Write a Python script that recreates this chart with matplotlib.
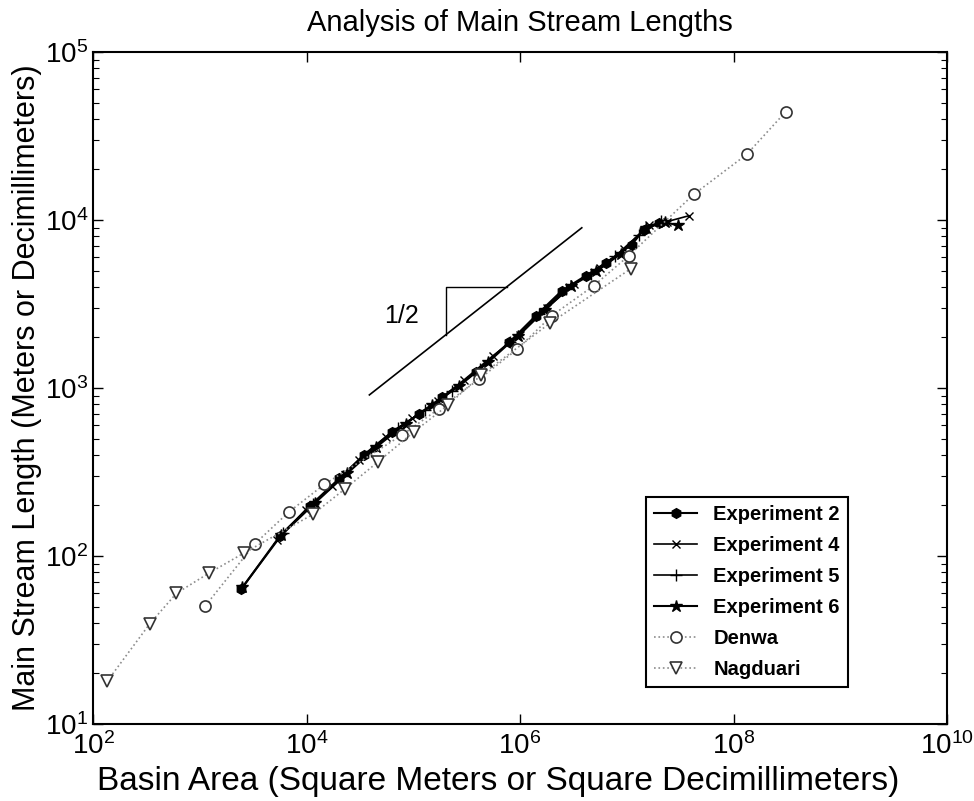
import matplotlib
matplotlib.use("Agg")
import matplotlib.pyplot as plt
import numpy as np

plt.rcParams['font.family'] = ['Liberation Sans', 'DejaVu Sans']
plt.rcParams['mathtext.fontset'] = 'custom'
plt.rcParams['mathtext.rm'] = 'Liberation Sans'
plt.rcParams['mathtext.it'] = 'Liberation Sans:italic'
plt.rcParams['mathtext.bf'] = 'Liberation Sans:bold'

# Experiments (laboratory basins, square decimillimeters / decimillimeters)
exp2_area = [2450, 5600, 10700, 20300, 34800, 63700, 114000, 187000, 388000, 789000,
             1.41e6, 2.47e6, 4.14e6, 6.37e6, 1.11e7, 1.44e7, 1.99e7]
exp2_len = [63.5, 131, 198, 290, 402, 550, 702, 885, 1245, 1870,
            2700, 3800, 4670, 5570, 7120, 8730, 9600]

exp4_area = [5300, 9800, 17500, 31000, 55000, 98000, 170000, 300000, 560000, 1.0e6,
             1.8e6, 3.2e6, 5.6e6, 9.5e6, 1.6e7, 2.4e7, 3.8e7]
exp4_len = [125, 188, 262, 375, 510, 660, 840, 1120, 1560, 2080,
            3000, 4150, 5200, 6700, 9300, 9800, 10600]

exp5_area = [6000, 11500, 22000, 40000, 72000, 130000, 230000, 420000, 800000, 1.5e6,
             2.7e6, 4.6e6, 7.8e6, 1.3e7, 2.1e7]
exp5_len = [138, 205, 300, 420, 580, 740, 960, 1300, 1880, 2750,
            3900, 4800, 6100, 8200, 9900]

exp6_area = [2500, 5800, 12000, 24000, 45000, 85000, 150000, 270000, 500000, 950000,
             1.7e6, 3.0e6, 5.2e6, 8.8e6, 1.5e7, 2.3e7, 3.0e7]
exp6_len = [65, 133, 207, 310, 445, 615, 790, 1030, 1420, 2050,
            2920, 4050, 4950, 6300, 9000, 9700, 9300]

# Natural basins
denwa_area = [1130, 3270, 6840, 14700, 78900, 175000, 414000, 938000, 1.99e6, 4.92e6,
              1.04e7, 4.23e7, 1.33e8, 3.08e8]
denwa_len = [50.6, 118, 183, 267, 527, 755, 1130, 1700, 2700, 4070,
             6120, 14200, 24600, 44100]

nag_area = [136, 341, 605, 1213, 2580, 11460, 23100, 47100, 102000, 212000,
            432000, 1.90e6, 1.09e7]
nag_len = [18, 39.6, 60, 79, 104, 177, 252, 365, 550, 793,
           1194, 2430, 5130]

fig = plt.figure(figsize=(9.74, 8.01), dpi=100)
ax = fig.add_axes([0.0955, 0.0961, 0.8768, 0.8389])

ax.plot(exp2_area, exp2_len, '-', color='black', lw=1.5, marker='h', ms=7,
        mfc='black', label='Experiment 2')
ax.plot(exp4_area, exp4_len, '-', color='black', lw=1.2, marker='x', ms=6,
        label='Experiment 4')
ax.plot(exp5_area, exp5_len, '-', color='black', lw=1.2, marker='+', ms=8,
        label='Experiment 5')
ax.plot(exp6_area, exp6_len, '-', color='black', lw=1.5, marker='*', ms=9,
        mfc='black', label='Experiment 6')
ax.plot(denwa_area, denwa_len, ':', color='0.55', lw=1.2, marker='o', ms=8,
        mfc='white', mec='0.2', mew=1.2, label='Denwa')
ax.plot(nag_area, nag_len, ':', color='0.55', lw=1.2, marker='v', ms=9,
        mfc='white', mec='0.2', mew=1.2, label='Nagduari')

# slope 1/2 reference line with triangle
c = 4.62
sx = np.array([3.88e4, 3.79e6])
ax.plot(sx, c * sx ** 0.5, color='black', lw=1.2)
tx0, tx1 = 2.03e5, 7.57e5
ax.plot([tx0, tx0, tx1], [c * tx0 ** 0.5, c * tx1 ** 0.5, c * tx1 ** 0.5],
        color='black', lw=1.0)
ax.text(7.7e4, 2700, '1/2', fontsize=18, ha='center', va='center')

ax.set_xscale('log')
ax.set_yscale('log')
ax.set_xlim(1e2, 1e10)
ax.set_ylim(1e1, 1e5)
ax.set_xticks([1e2, 1e4, 1e6, 1e8, 1e10])
ax.xaxis.set_minor_locator(matplotlib.ticker.NullLocator())
ax.tick_params(which='both', direction='in', top=True, right=True, labelsize=20)
ax.tick_params(which='major', length=7, width=1)
ax.tick_params(which='minor', length=4, width=0.8)
ax.tick_params(axis='x', pad=6)
for s in ax.spines.values():
    s.set_linewidth(1.5)

ax.set_title('Analysis of Main Stream Lengths', fontsize=21, pad=15)
ax.set_xlabel('Basin Area (Square Meters or Square Decimillimeters)', fontsize=24, labelpad=0)
ax.xaxis.set_label_coords(0.475, -0.062)
ax.set_ylabel('Main Stream Length (Meters or Decimillimeters)', fontsize=22, labelpad=2)

leg = ax.legend(loc='lower right', bbox_to_anchor=(0.884, 0.055), borderaxespad=0,
                prop={'weight': 'bold', 'size': 14.5}, handlelength=2.15,
                labelspacing=0.6, fancybox=False, edgecolor='black', framealpha=1)
leg.get_frame().set_linewidth(1.5)

plt.savefig('out.png', dpi=100)
